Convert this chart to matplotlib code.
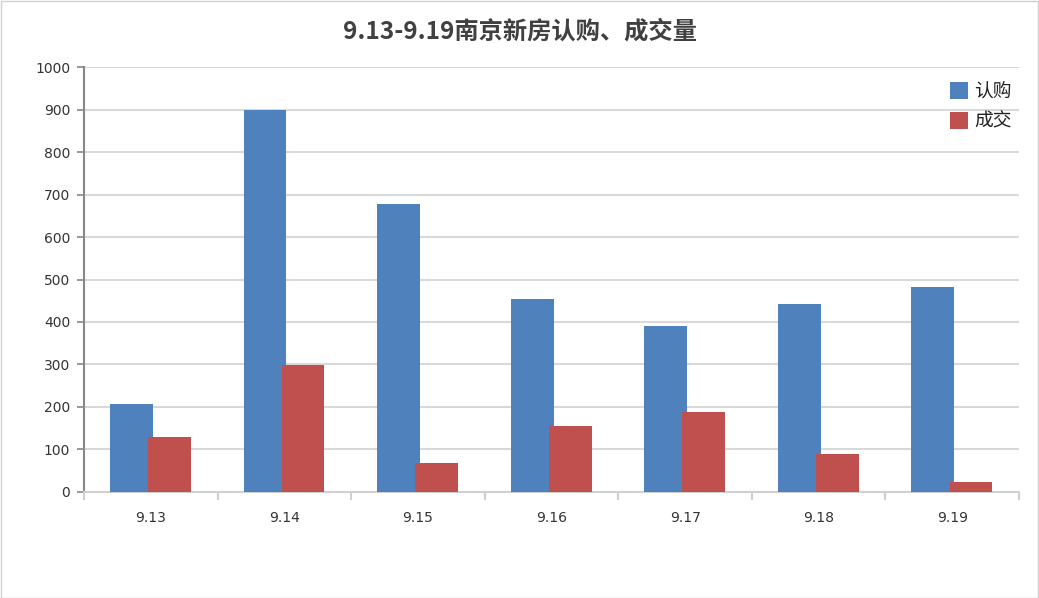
import matplotlib
matplotlib.use("Agg")
import matplotlib.pyplot as plt
import numpy as np

plt.rcParams['font.family'] = ['Noto Sans CJK SC', 'DejaVu Sans']

categories = ["9.13", "9.14", "9.15", "9.16", "9.17", "9.18", "9.19"]
subscribe = [206, 900, 677, 453, 391, 443, 483]
deals = [129, 298, 67, 155, 188, 89, 23]
series_names = ["认购", "成交"]
title = "9.13-9.19南京新房认购、成交量"
yticks = list(range(0, 1001, 100))

fig = plt.figure(figsize=(10.39, 5.98), dpi=100)
ax = fig.add_axes([84/1039, 1-491.7/598, (1019-84)/1039, (491.7-67.3)/598])

x = np.arange(len(categories))
w = 0.32
ax.bar(x - 0.145, subscribe, width=w, color="#4F81BD", label=series_names[0], zorder=3)
ax.bar(x + 0.14, deals, width=w, color="#C0504D", label=series_names[1], zorder=4)

ax.set_xlim(-0.5, len(categories) - 0.5)
ax.set_ylim(0, 1000)
ax.set_yticks(yticks)
ax.set_yticklabels([str(v) for v in yticks], fontsize=10, color="#333333",
                   family=['DejaVu Sans'])
ax.yaxis.grid(True, color="#d9d9d9", linewidth=1.5, zorder=0)
ax.set_axisbelow(True)

ax.set_xticks(x)
ax.set_xticklabels(categories, fontsize=10, color="#333333", family=['DejaVu Sans'])
ax.tick_params(axis='x', length=0, pad=14)
ax.set_xticks(np.arange(-0.5, len(categories)), minor=True)
ax.tick_params(axis='x', which='minor', length=6, color="#d0d0d0", width=1.5)
ax.tick_params(axis='y', length=5, color="#888888", width=1.2, pad=5)

for s in ["top", "right"]:
    ax.spines[s].set_visible(False)
ax.spines["left"].set_color("#888888")
ax.spines["left"].set_linewidth(1.5)
ax.spines["bottom"].set_color("#d0d0d0")
ax.spines["bottom"].set_linewidth(1.5)

fig.text(0.5, 1-32/598, title, ha="center", va="center", fontsize=17.5,
         fontweight="bold", color="#404040")

leg = ax.legend(loc="upper right", bbox_to_anchor=(1.0, 0.985), frameon=False,
                fontsize=13.5, handlelength=1.0, handleheight=1.0, handletextpad=0.3,
                labelspacing=0.45, borderaxespad=0.0)
for t in leg.get_texts():
    t.set_color("#222222")

# light border around figure
fig.patches.append(plt.Rectangle((0.0005, 0.0008), 0.999, 0.998, transform=fig.transFigure,
                                 fill=False, edgecolor="#d0d0d0", linewidth=1))

fig.savefig("out.png", dpi=100)
